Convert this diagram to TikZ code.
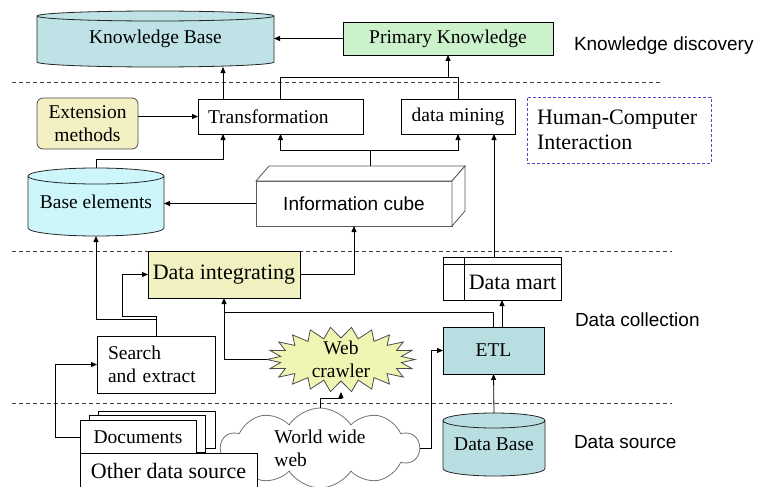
\documentclass[tikz,border=0pt]{standalone}
\usepackage{fontspec}
\setmainfont{Liberation Serif}
\newfontfamily\labelsans{Liberation Sans}
\usetikzlibrary{arrows.meta,shapes.symbols,calc,backgrounds}

\definecolor{kbfill}{HTML}{BEE2E6}
\definecolor{basefill}{HTML}{CCF6FA}
\definecolor{dbfill}{HTML}{B9DEE2}
\definecolor{pkfill}{HTML}{CCF2CC}
\definecolor{extfill}{HTML}{F3F1C4}
\definecolor{integfill}{HTML}{F0F0C0}
\definecolor{crawlfill}{HTML}{F0F5B4}
\definecolor{hcicol}{HTML}{4A4ACF}

\newcommand{\drawcyl}[3]{%
  \path let \p1=(#1.north west), \p2=(#1.south east), \n1={(\x2-\x1)/2} in
    [draw=black!85, line width=0.8pt, fill=#3]
    (\x1,\y1-#2) -- (\x1,\y2+#2)
      arc[start angle=180,end angle=360,x radius=\n1,y radius=#2]
      -- (\x2,\y1-#2)
      arc[start angle=0,end angle=180,x radius=\n1,y radius=#2] -- cycle
    (\x1,\y1-#2) arc[start angle=180,end angle=360,x radius=\n1,y radius=#2];
}

\begin{document}
\begin{tikzpicture}[x=1pt,y=-1pt,
  every node/.style={font=\fontsize{19.5}{23}\selectfont, inner sep=0pt, outer sep=0pt},
  arr/.style={line width=0.8pt, -{Triangle[length=6pt,width=5pt]}},
  conn/.style={line width=0.8pt},
  sep/.style={draw=black!75, line width=0.8pt, dash pattern=on 4pt off 3pt},
  bx/.style={draw=black, line width=0.8pt, fill=white},
  big/.style={font=\fontsize{22}{25}\selectfont},
  lab/.style={font=\labelsans\fontsize{19}{22}\selectfont, anchor=west},
]
\useasboundingbox (0,0) rectangle (760,487);
\clip (0,0) rectangle (760,487);

% top layer
\node[minimum width=237, minimum height=56] (kb) at (155.5,39) {Knowledge Base};
\node[bx, fill=pkfill, minimum width=210, minimum height=33] (pk) at (448,38.5) {Primary Knowledge};
\node[lab] (kdlab) at (574,46) {Knowledge discovery};

% middle layer
\node[bx, minimum width=165, minimum height=35, text width=145, align=left] (trans) at (280.5,116.5) {Transformation};
\node[bx, minimum width=114, minimum height=35] (dm) at (458,116.5) {data mining};
\node[draw=hcicol, line width=0.8pt, dash pattern=on 3pt off 2pt, minimum width=184, minimum height=66, text width=164, align=left, big] (hci) at (619,130) {Human-Computer\\Interaction};
\node[draw=black!70, line width=0.8pt, fill=extfill, rounded corners=6pt, minimum width=101, minimum height=51, align=center] (ext) at (87.5,123.5) {Extension\\methods};
\node[minimum width=136, minimum height=68] (base) at (96,202) {Base elements};
\node[draw=black!65, fill=white, line width=0.8pt, minimum width=196, minimum height=45, font=\labelsans\fontsize{19}{22}\selectfont] (cube) at (354,203.5) {Information cube};
\draw[draw=black!65, line width=0.8pt, fill=white] (cube.north west) -- ++(13pt,15pt) -- ++(196pt,0pt) -- (cube.north east) -- cycle;
\draw[draw=black!65, line width=0.8pt, fill=white] (cube.north east) -- ++(13pt,15pt) -- ++(0pt,-45pt) -- (cube.south east) -- cycle;
\coordinate (cubetop) at ($(cube.north)+(16,-15)$);

% collection layer
\node[bx, fill=integfill, minimum width=152, minimum height=47, big] (integ) at (224,274.5) {Data integrating};
\node[bx, minimum width=97, minimum height=36, big] (mart) at (512.5,282) {Data mart};
\draw[conn] ($(mart.south west)+(-21,0)$) rectangle ($(mart.north east)+(0,-7)$);
\draw[conn] ($(mart.north west)+(-21,0)$) -- (mart.north west) -- ++(0,-7);
\node[lab] (dclab) at (575,320) {Data collection};
\node[bx, fill=dbfill, minimum width=101, minimum height=47] (etl) at (493.5,350.5) {ETL};
\node[bx, minimum width=118, minimum height=57, text width=96, align=left] (search) at (156,364.5) {Search\\and extract};
\node[minimum width=148, minimum height=65, align=center] (crawler) at (341,359.5) {Web\\crawler};

% source layer
\node[cloud, cloud puffs=10, cloud puff arc=115, aspect=2.4, draw=black!55, line width=0.8pt, fill=white, minimum width=198, minimum height=80, align=left] (www) at (320,448) {World wide\\web};
\node[bx, minimum width=117, minimum height=37] (docback) at (156.5,429.5) {};
\node[bx, minimum width=116, minimum height=37] (docmid) at (147,433.5) {};
\node[bx, minimum width=116, minimum height=35] (docfront) at (138,437.5) {Documents};
\node[bx, minimum width=177, minimum height=36, big] (other) at (168.5,471) {Other data source};
\node[minimum width=102, minimum height=63] (db) at (494,444.5) {Data Base};
\node[lab] (dslab) at (574,442) {Data source};

% background shapes
\begin{scope}[on background layer]
\fill[white] (0,0) rectangle (760,487);
\draw[sep] (12,82) -- (663,82);
\draw[sep] (12,251) -- (672,251);
\draw[sep] (12,403) -- (672,403);
\drawcyl{kb}{5pt}{kbfill}
\drawcyl{base}{8pt}{basefill}
\drawcyl{db}{7.5pt}{dbfill}
\filldraw[shift={(crawler.center)}, fill=crawlfill, draw=black!70, line width=0.8pt]
  plot[samples at={0,...,43}, variable=\i]
  ({(74-13*mod(\i,2))*cos(\i*360/44)}, {(32.5-11*mod(\i,2))*sin(\i*360/44)}) -- cycle;
\end{scope}

% connectors
\draw[arr] (pk.west) -- (pk.west -| kb.east);
\draw[arr] ([xshift=-57.5pt]trans.north) -- ([xshift=-57.5pt]trans.north |- kb.south);
\draw[conn] (trans.north) -- ++(0,-22) -| (dm.north);
\draw[arr] ($(pk.south)+(0,22)$) -- (pk.south);
\draw[arr] (ext.east |- trans.west) -- (trans.west);
\draw[arr] (base.north) -- ++(0,-9) -| ([xshift=-57.5pt]trans.south);
\draw[arr] (cubetop) -- ++(0,-16) -| (trans.south);
\draw[arr] (cubetop) -- ++(0,-16) -| (dm.south);
\draw[arr] (cube.west) -- (cube.west -| base.east);
\coordinate (marttop) at ($(mart.north)+(-18.5,-7)$);
\draw[arr] (marttop) -- (marttop |- dm.south);
\draw[arr] (integ.east) -| (cube.south);
\draw[arr] (search.north) -- ++(0,-17) -| (base.south);
\draw[arr] (search.north) -- ++(0,-20) -- ++(-34,0) |- (integ.west);
\draw[arr] ([xshift=-74pt]crawler.center) -| (integ.south);
\draw[conn] (etl.north) |- ($(integ.south)+(0,14)$);
\draw[arr] ([xshift=-10.5pt]mart.south |- etl.north) -- ([xshift=-10.5pt]mart.south);
\draw[arr] (db.north) -- (etl.south);
\draw[arr] (www.east) -- ++(12,0) |- (etl.west);
\draw[arr] (www.north) -- ++(0,-10) -| ([yshift=-32.5pt]crawler.center);
\draw[arr] (docfront.west) -- ++(-25,0) |- (search.west);
\end{tikzpicture}
\end{document}
